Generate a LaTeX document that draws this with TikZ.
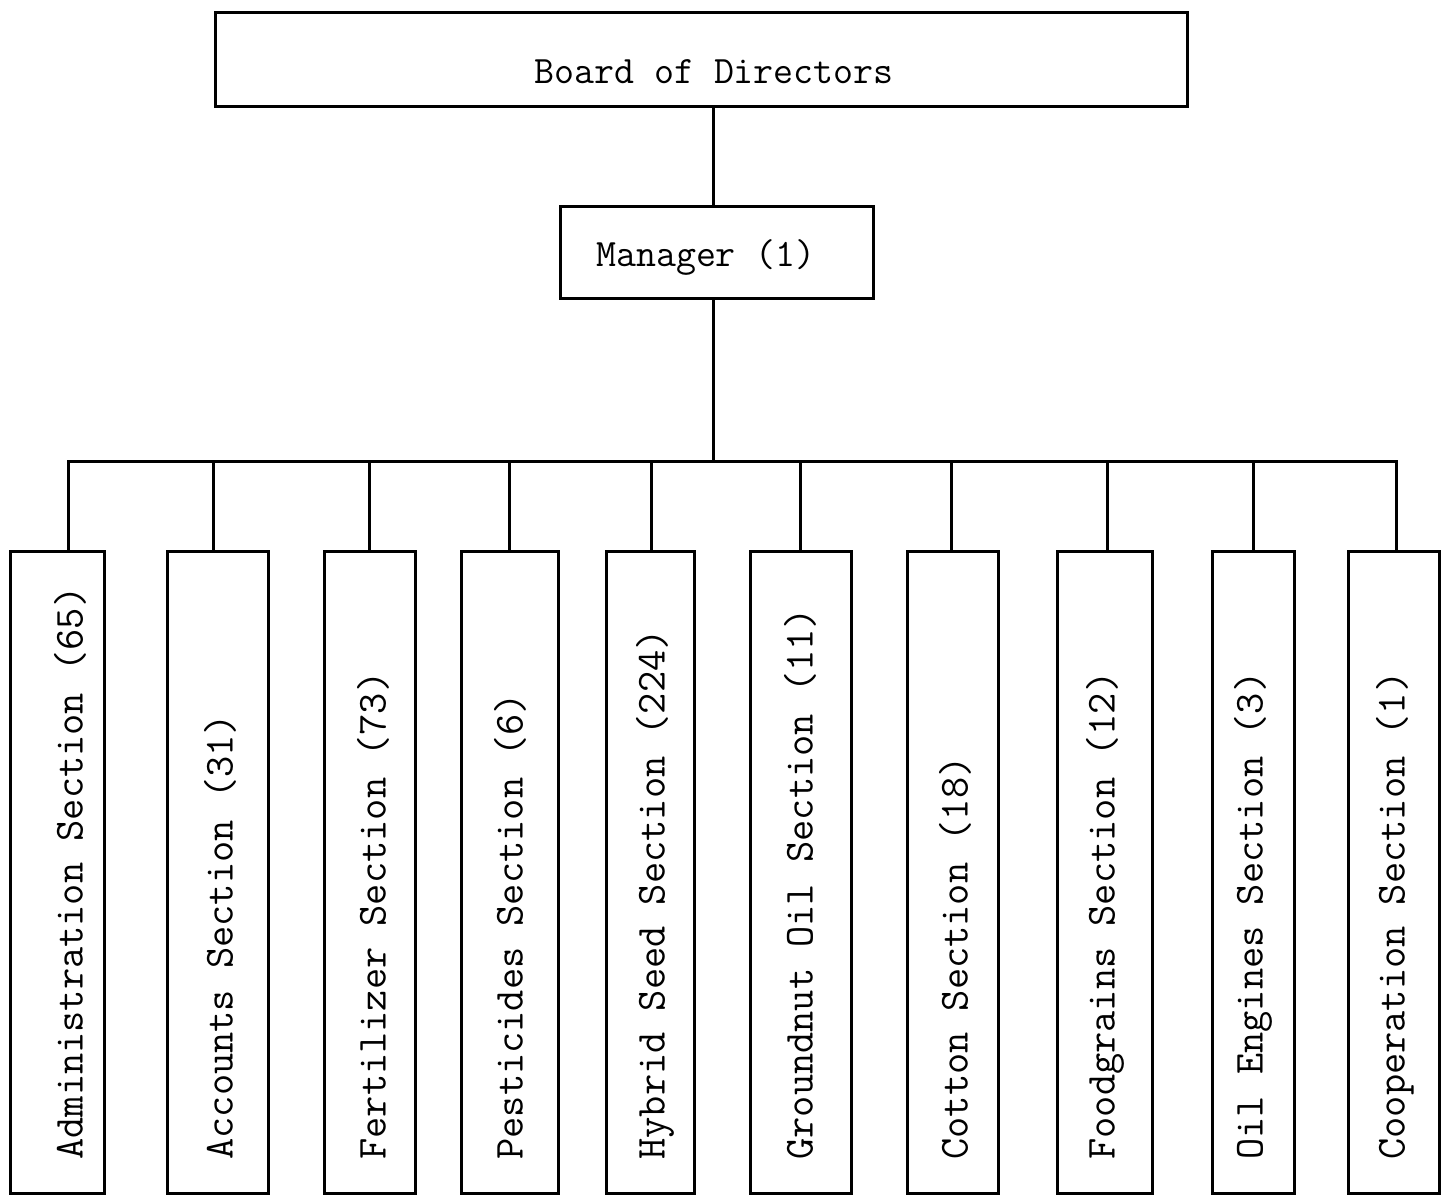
\documentclass[tikz,border=0pt]{standalone}
\usepackage{fontspec}
\begin{document}
\begin{tikzpicture}[x=0.5pt,y=-0.5pt,
  box/.style={draw, line width=1.5pt, rectangle, inner sep=0pt},
  lbl/.style={font=\ttfamily\fontsize{19.4}{23}\selectfont, inner sep=0pt},
  vlbl/.style={inner sep=0pt, font=\ttfamily\fontsize{20.6}{24}\selectfont, rotate=90, anchor=west},
  conn/.style={line width=1.5pt, line cap=rect}]
\useasboundingbox (0,0) rectangle (1447,1196);
% top boxes
\node[box, minimum width=486pt, minimum height=47pt] (board) at (701,59) {};
\node[lbl] (boardt) at (714,72) {Board of Directors};
\node[box, minimum width=156.5pt, minimum height=46pt] (mgr) at (716.5,252) {};
\node[lbl] (mgrt) at (706,257) {Manager (1)};
\coordinate (m) at (713,0);
\coordinate (bm) at (713,461);
\draw[conn] (board.south -| m) -- (mgr.north -| m);
\draw[conn] (mgr.south -| m) -- (bm);
% sections
\foreach \n/\l/\r/\d/\tx/\t in {
  1/10/104/68/70/Administration Section (65),
  2/167/268/213/220/Accounts Section (31),
  3/324/415/369/373/Fertilizer Section (73),
  4/461/558/509/510/Pesticides Section (6),
  5/606/694/651/655/Hybrid Seed Section (224),
  6/750/851/800/800/Groundnut Oil Section (11),
  7/907/998/951/955/Cotton Section (18),
  8/1057/1152/1107/1105/Foodgrains Section (12),
  9/1212/1294/1253/1253/Oil Engines Section (3),
  10/1348/1439/1396/1395/Cooperation Section (1)}{
  \pgfmathsetmacro\w{(\r-\l)/2}
  \pgfmathsetmacro\cx{(\r+\l)/2}
  \node[box, minimum width=\w pt, minimum height=321pt] (s\n) at (\cx,872) {};
  \node[vlbl] (t\n) at (\tx,1160) {\t};
  \coordinate (b\n) at (\d,461);
  \draw[conn] (b\n) -- (b\n |- s\n.north);
}
\draw[conn] (b1) -- (b10);
\end{tikzpicture}
\end{document}
